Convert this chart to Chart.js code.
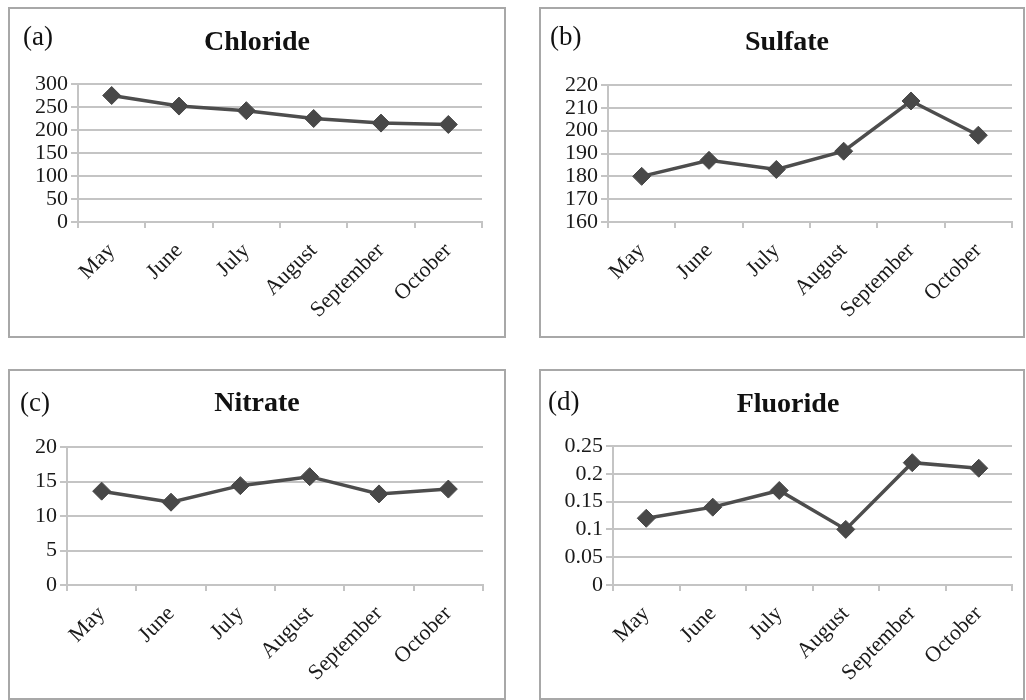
<!DOCTYPE html>
<html>
<head>
<meta charset="utf-8">
<script src="https://cdn.jsdelivr.net/npm/chart.js@4.4.0/dist/chart.umd.min.js"></script>
<style>
  body { margin: 0; background: #fff; width: 1026px; height: 700px; overflow: hidden; position: relative; }
  .panel { position: absolute; box-sizing: border-box; border: 2px solid #a8a8a8; background: #fff; }
  .panel canvas { position: absolute; left: 0; top: 0; }
</style>
</head>
<body>
<div class="panel" style="left:8px;top:7px;width:498px;height:331px"><canvas id="ca" width="494" height="327"></canvas></div>
<div class="panel" style="left:539px;top:7px;width:486px;height:331px"><canvas id="cb" width="482" height="327"></canvas></div>
<div class="panel" style="left:8px;top:369px;width:498px;height:331px"><canvas id="cc" width="494" height="327"></canvas></div>
<div class="panel" style="left:539px;top:369px;width:486px;height:331px"><canvas id="cd" width="482" height="327"></canvas></div>

<script>
// data
const months = ['May', 'June', 'July', 'August', 'September', 'October'];

const chloride = [275, 252, 242, 225, 215, 212];
const sulfate = [180, 187, 183, 191, 213, 198];
const nitrate = [13.6, 12.0, 14.4, 15.7, 13.2, 13.9];
const fluoride = [0.12, 0.14, 0.17, 0.10, 0.22, 0.21];

const chlorideTicks = [0, 50, 100, 150, 200, 250, 300];
const sulfateTicks = [160, 170, 180, 190, 200, 210, 220];
const nitrateTicks = [0, 5, 10, 15, 20];
const fluorideTicks = [0, 0.05, 0.1, 0.15, 0.2, 0.25];

const serif = '"Liberation Serif", "Times New Roman", serif';
const gridGray = '#c4c4c4';
const lineGray = '#4d4d4d';

// draws "(a)" and the bold title inside each panel
const panelText = {
  id: 'panelText',
  afterDraw(chart, args, opts) {
    const ctx = chart.ctx;
    ctx.save();
    ctx.fillStyle = '#111';
    ctx.textBaseline = 'alphabetic';
    ctx.font = '27px ' + serif;
    ctx.textAlign = 'left';
    ctx.fillText(opts.tag, opts.tagX, opts.tagY);
    ctx.font = 'bold 28px ' + serif;
    ctx.textAlign = 'center';
    ctx.fillText(opts.title, opts.titleX, opts.titleY);
    ctx.restore();
  }
};

function makeChart(id, values, ticks, text, box) {
  const cv = document.getElementById(id);
  const xH = 110; // room for the slanted month names
  return new Chart(cv, {
    type: 'line',
    data: {
      labels: months,
      datasets: [{
        data: values,
        borderColor: lineGray,
        borderWidth: 3.5,
        backgroundColor: '#484848',
        pointBackgroundColor: '#484848',
        pointBorderColor: '#484848',
        pointStyle: 'rectRot',
        pointRadius: 9,
        pointBorderWidth: 1,
        tension: 0
      }]
    },
    options: {
      responsive: false,
      animation: false,
      events: [],
      layout: {
        padding: { left: 0, top: box.t, right: cv.width - box.r, bottom: cv.height - box.b - xH }
      },
      plugins: {
        legend: { display: false },
        tooltip: { enabled: false },
        panelText: text
      },
      scales: {
        x: {
          offset: true,
          grid: { offset: true, drawOnChartArea: false, drawTicks: true, tickLength: 6, color: gridGray, lineWidth: 2 },
          border: { color: gridGray, width: 2 },
          ticks: {
            autoSkip: false, maxRotation: 45, minRotation: 45, padding: 10,
            color: '#1a1a1a', font: { family: serif, size: 22 }
          },
          afterFit: (s) => { s.height = xH; }
        },
        y: {
          min: ticks[0],
          max: ticks[ticks.length - 1],
          grid: { color: gridGray, lineWidth: 2, tickLength: 7 },
          border: { color: gridGray, width: 2 },
          ticks: {
            autoSkip: false, padding: 3, color: '#1a1a1a', font: { family: serif, size: 22 },
            callback: (v) => String(v)
          },
          afterBuildTicks: (s) => { s.ticks = ticks.map(v => ({ value: v })); },
          afterFit: (s) => { s.width = box.l; }
        }
      }
    },
    plugins: [panelText]
  });
}

makeChart('ca', chloride, chlorideTicks,
  { tag: '(a)', tagX: 13, tagY: 36, title: 'Chloride', titleX: 247, titleY: 41 },
  { l: 68, t: 75, r: 472, b: 213 });
makeChart('cb', sulfate, sulfateTicks,
  { tag: '(b)', tagX: 9, tagY: 36, title: 'Sulfate', titleX: 246, titleY: 41 },
  { l: 67, t: 76, r: 471, b: 213 });
makeChart('cc', nitrate, nitrateTicks,
  { tag: '(c)', tagX: 10, tagY: 40, title: 'Nitrate', titleX: 247, titleY: 40 },
  { l: 57, t: 76, r: 473, b: 214 });
makeChart('cd', fluoride, fluorideTicks,
  { tag: '(d)', tagX: 7, tagY: 39, title: 'Fluoride', titleX: 247, titleY: 41 },
  { l: 72, t: 75, r: 471, b: 214 });
</script>
</body>
</html>
